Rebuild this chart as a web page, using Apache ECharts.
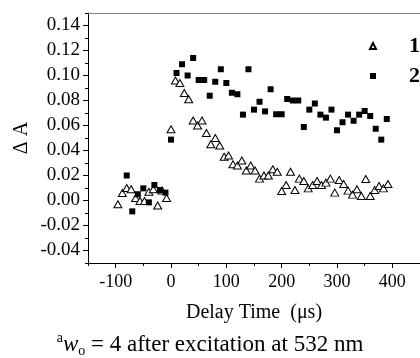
<!DOCTYPE html>
<html>
<head>
<meta charset="utf-8">
<script src="https://cdn.jsdelivr.net/npm/echarts@6/dist/echarts.min.js"></script>
<style>
html,body{margin:0;padding:0;background:#fff;}
#chart{width:420px;height:358px;}
</style>
</head>
<body>
<div id="chart"></div>
<script>
// Series 1 (open triangles): delay time (µs) and ΔA
const tri_t = [-96,-88,-80,-72,-64,-56,-48,-40,-32,-24,-16,-8,
  0,8,16,24,32,40,48,56,64,72,80,88,96,104,112,120,128,136,144,152,160,168,176,184,192,
  200,208,216,224,232,240,248,256,264,272,280,288,296,304,312,320,328,336,344,352,360,368,376,384,392];
const tri_v = [-0.003,0.006,0.010,0.009,0.002,-0.0004,-0.0004,0.007,0.009,-0.004,0.008,0.002,
  0.057,0.096,0.094,0.086,0.081,0.064,0.060,0.064,0.054,0.045,0.050,0.044,0.035,0.036,0.029,0.028,0.032,0.024,0.028,0.024,0.0175,0.020,0.020,0.025,0.023,
  0.0076,0.0124,0.023,0.0084,0.0175,0.0156,0.0097,0.0124,0.0156,0.0124,0.0143,0.0175,0.0063,0.0164,0.0132,0.0079,0.0047,0.009,0.0036,0.0172,0.0036,0.0084,0.0116,0.0097,0.0132];

// Series 2 (filled squares)
const sq_t = [-80,-70,-60,-50,-40,-30,-20,-10,
  0,10,20,30,40,50,60,70,80,90,100,110,120,130,140,150,160,170,180,190,
  200,210,220,230,240,250,260,270,280,290,300,310,320,330,340,350,360,370,380,390];
const sq_v = [0.020,-0.0087,0.005,0.0097,-0.0015,0.0124,0.0084,0.0063,
  0.0487,0.102,0.109,0.100,0.114,0.0964,0.0964,0.0838,0.095,0.105,0.094,0.0862,0.085,0.0687,0.105,0.0727,0.079,0.0713,0.089,0.069,
  0.069,0.0812,0.080,0.080,0.0588,0.0727,0.0776,0.0687,0.0663,0.0727,0.0562,0.0626,0.0687,0.0638,0.0687,0.0716,0.0676,0.0574,0.0487,0.0652];

const seriesNames = ['1','2'];
const xMajor = [-100,0,100,200,300,400];
const xMinor = [-150,-50,50,150,250,350,450];
const yMajor = [-0.04,-0.02,0,0.02,0.04,0.06,0.08,0.10,0.12,0.14];
const yMinor = [-0.05,-0.03,-0.01,0.01,0.03,0.05,0.07,0.09,0.11,0.13,0.15];
const xName = 'Delay Time  (\u03bcs)';
const yName = '\u0394 A';

const FONT = '"Liberation Serif", "Times New Roman", serif';
const chart = echarts.init(document.getElementById('chart'), null, {renderer:'canvas'});

const tri = tri_t.map((t,i)=>[t, tri_v[i]]);
const sq = sq_t.map((t,i)=>[t, sq_v[i]]);

chart.setOption({
  animation:false,
  backgroundColor:'#fff',
  grid:{left:88, top:13, width:340, height:250},
  title:{
    text:'{sup|a}{it|w}{sub|o}{n| = 4 after excitation at 532 nm}',
    left:205, top:326, textAlign:'center',
    textStyle:{
      fontWeight:'normal',
      rich:{
        sup:{fontFamily:FONT, fontSize:14, fontWeight:'normal', color:'#000', verticalAlign:'top', lineHeight:27},
        it:{fontFamily:FONT, fontSize:23, fontStyle:'italic', fontWeight:'normal', color:'#000', lineHeight:27},
        sub:{fontFamily:FONT, fontSize:14, fontWeight:'normal', color:'#000', verticalAlign:'bottom', lineHeight:27},
        n:{fontFamily:FONT, fontSize:23, fontWeight:'normal', color:'#000', lineHeight:27}
      }
    }
  },
  legend:{
    orient:'vertical', left:364, top:30, itemWidth:6, itemHeight:6, itemGap:8,
    data:[{name:'1', icon:'triangle'},{name:'2', icon:'rect'}],
    formatter:'{b|{name}}',
    textStyle:{
      rich:{b:{fontFamily:FONT, fontSize:22, fontWeight:'bold', color:'#000', lineHeight:22, padding:[0,0,0,28]}}
    }
  },
  xAxis:[{
    type:'value', min:-150, max:450, position:'bottom',
    axisLine:{show:true, onZero:false, lineStyle:{color:'#000', width:1}},
    axisTick:{show:true, length:5, customValues:xMajor, lineStyle:{color:'#000'}},
    axisLabel:{customValues:xMajor, fontFamily:FONT, fontSize:18, color:'#000', margin:10},
    splitLine:{show:false},
    name:xName, nameLocation:'middle', nameGap:40,
    nameTextStyle:{fontFamily:FONT, fontSize:20, color:'#000'}
  },{
    type:'value', min:-150, max:450, position:'bottom',
    axisLine:{show:false, onZero:false},
    axisTick:{show:true, length:3, customValues:xMinor, lineStyle:{color:'#000'}},
    axisLabel:{show:false}, splitLine:{show:false}
  },{
    type:'value', min:-150, max:450, position:'top',
    axisLine:{show:true, onZero:false, lineStyle:{color:'#808080', width:1}},
    axisTick:{show:false}, axisLabel:{show:false}, splitLine:{show:false}
  }],
  yAxis:[{
    type:'value', min:-0.05, max:0.15, position:'left',
    axisLine:{show:true, onZero:false, lineStyle:{color:'#000', width:1}},
    axisTick:{show:true, length:5, customValues:yMajor, lineStyle:{color:'#000'}},
    axisLabel:{customValues:yMajor, formatter:v=>v.toFixed(2), fontFamily:FONT, fontSize:19, color:'#000', margin:8},
    splitLine:{show:false},
    name:yName, nameLocation:'middle', nameRotate:90, nameGap:56, nameMoveOverlap:false,
    nameTextStyle:{fontFamily:FONT, fontSize:20, color:'#000'}
  },{
    type:'value', min:-0.05, max:0.15, position:'left', offset:0,
    axisLine:{show:false, onZero:false},
    axisTick:{show:true, length:3, customValues:yMinor, lineStyle:{color:'#000'}},
    axisLabel:{show:false}, splitLine:{show:false}
  }],
  series:[{
    name:seriesNames[0], type:'scatter', data:tri, xAxisIndex:0, yAxisIndex:0,
    symbol:'triangle', symbolSize:[8,7],
    itemStyle:{color:'#fff', borderColor:'#000', borderWidth:1, opacity:1}
  },{
    name:seriesNames[1], type:'scatter', data:sq, xAxisIndex:0, yAxisIndex:0,
    symbol:'rect', symbolSize:6,
    itemStyle:{color:'#000', opacity:1}
  }]
});
</script>
</body>
</html>
